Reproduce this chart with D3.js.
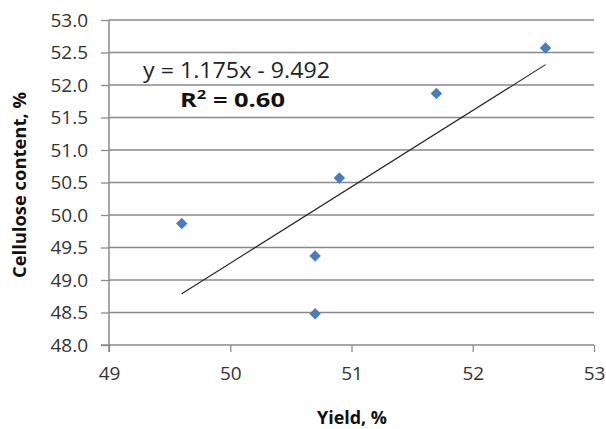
<!DOCTYPE html>
<html><head><meta charset="utf-8">
<script src="https://cdn.jsdelivr.net/npm/d3@7"></script>
<style>html,body{margin:0;padding:0;background:#fff;}svg{display:block;}</style>
</head><body>
<script>
const yieldValues = [49.6, 50.7, 50.7, 50.9, 51.7, 52.6];
const celluloseValues = [49.87, 49.37, 48.48, 50.57, 51.87, 52.57];
const xTicks = [49, 50, 51, 52, 53];
const yTicks = [48.0, 48.5, 49.0, 49.5, 50.0, 50.5, 51.0, 51.5, 52.0, 52.5, 53.0];
const trendSlope = 1.175;
const trendIntercept = -9.492;
const equationLabel = "y = 1.175x - 9.492";
const r2Label = "0.60";
const xTitle = "Yield, %";
const yTitle = "Cellulose content, %";

const W = 606, H = 429;
const FONT = "'Open Sans', 'Liberation Sans', sans-serif";
const svg = d3.select("body").append("svg").attr("width", W).attr("height", H);

const x = d3.scaleLinear().domain([49, 53]).range([109, 594]);
const y = d3.scaleLinear().domain([48, 53]).range([345, 20]);
const axisColor = "#8a8a8a";

// gridlines
svg.append("g").selectAll("line").data(yTicks.filter(d => d > 48)).join("line")
  .attr("x1", x(49)).attr("x2", x(53))
  .attr("y1", d => y(d)).attr("y2", d => y(d))
  .attr("stroke", axisColor).attr("stroke-width", 1.3);

// y axis
const yAxis = d3.axisLeft(y).tickValues(yTicks).tickFormat(d3.format(".1f")).tickSize(8).tickPadding(13);
const gy = svg.append("g").attr("transform", `translate(${x(49)},0)`).call(yAxis);
gy.select(".domain").attr("stroke", axisColor).attr("stroke-width", 1.5).attr("d", `M0,${y(53)}V${y(48) + 7}`);
gy.selectAll(".tick line").attr("stroke", axisColor).attr("stroke-width", 1.3);
gy.selectAll(".tick text").attr("font-family", FONT).attr("font-size", 19).attr("fill", "#333");

// x axis
const xAxis = d3.axisBottom(x).tickValues(xTicks).tickFormat(d3.format("d")).tickSize(7).tickPadding(22);
const gx = svg.append("g").attr("transform", `translate(0,${y(48)})`).call(xAxis);
gx.select(".domain").attr("stroke", axisColor).attr("stroke-width", 1.5).attr("d", `M${x(49) - 8},0H${x(53)}`);
gx.selectAll(".tick line").attr("stroke", axisColor).attr("stroke-width", 1.3);
gx.selectAll(".tick text").attr("font-family", FONT).attr("font-size", 19).attr("fill", "#333").attr("dy", "0.3em");

// trendline
const xMin = d3.min(yieldValues), xMax = d3.max(yieldValues);
svg.append("line")
  .attr("x1", x(xMin)).attr("y1", y(trendSlope * xMin + trendIntercept))
  .attr("x2", x(xMax)).attr("y2", y(trendSlope * xMax + trendIntercept))
  .attr("stroke", "#222").attr("stroke-width", 1.1);

// points
const pts = yieldValues.map((v, i) => [v, celluloseValues[i]]);
svg.append("g").selectAll("path").data(pts).join("path")
  .attr("d", d3.symbol().type(d3.symbolDiamond2).size(84))
  .attr("transform", d => `translate(${x(d[0])},${y(d[1])})`)
  .attr("fill", "#4a7ebb");

// equation
svg.append("text").attr("x", 143).attr("y", 77.5)
  .attr("font-family", FONT).attr("font-size", 21).attr("fill", "#222")
  .attr("textLength", 187).attr("lengthAdjust", "spacingAndGlyphs")
  .text(equationLabel);
const r2 = svg.append("text").attr("x", 180).attr("y", 107)
  .attr("font-family", FONT).attr("font-size", 20).attr("font-weight", "bold").attr("fill", "#111")
  .attr("textLength", 105).attr("lengthAdjust", "spacingAndGlyphs");
r2.append("tspan").text("R");
r2.append("tspan").attr("font-size", 13).attr("dy", -8).text("2");
r2.append("tspan").attr("dy", 8).text(" = " + r2Label);

// axis titles
svg.append("text").attr("x", 352).attr("y", 424).attr("text-anchor", "middle")
  .attr("font-family", FONT).attr("font-size", 18).attr("font-weight", "bold").attr("fill", "#111")
  .attr("textLength", 70).attr("lengthAdjust", "spacingAndGlyphs")
  .text(xTitle);
svg.append("text").attr("transform", "translate(26,185) rotate(-90)").attr("text-anchor", "middle")
  .attr("font-family", FONT).attr("font-size", 17).attr("font-weight", "bold").attr("fill", "#111")
  .attr("textLength", 186).attr("lengthAdjust", "spacingAndGlyphs")
  .text(yTitle);
</script>
</body></html>
